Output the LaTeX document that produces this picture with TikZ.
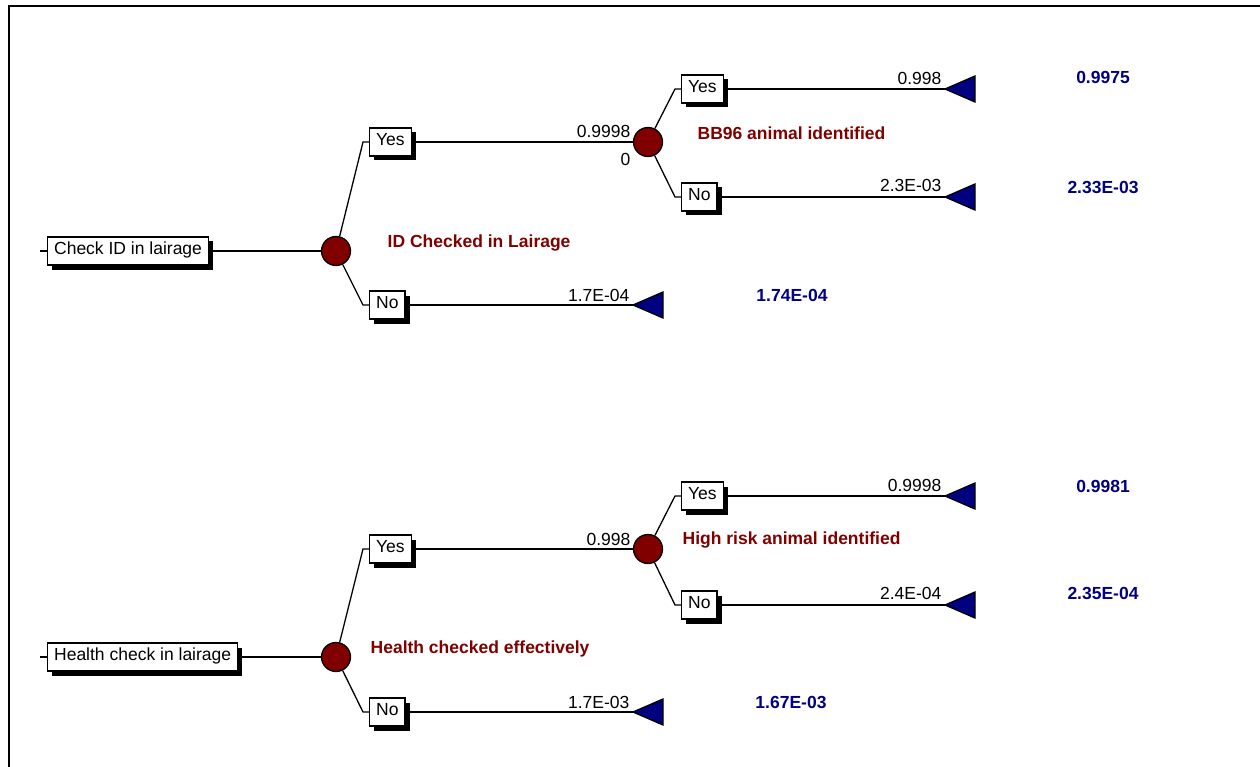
\documentclass[tikz,border=0pt]{standalone}
\usepackage{fontspec}
\setmainfont{Liberation Sans}
\usetikzlibrary{shadows}
\definecolor{treered}{HTML}{800000}
\definecolor{treeblue}{HTML}{000080}
\begin{document}
\begin{tikzpicture}[x=1pt,y=-1pt,line width=1.3pt,
    font=\fontsize{17.5}{21}\selectfont,
    opt/.style={draw,fill=white,anchor=west,inner xsep=6.5pt,inner ysep=0pt,minimum height=28pt,
        text height=12.5pt,text depth=5pt,
        drop shadow={shadow xshift=4.5pt,shadow yshift=-4.5pt,fill=black,opacity=1}},
    chance/.style={circle,draw,fill=treered,minimum size=29pt,inner sep=0pt},
    prob/.style={anchor=base east,inner sep=0pt},
    event/.style={text=treered,font=\fontsize{17.5}{21}\selectfont\bfseries,anchor=west,inner sep=0pt},
    payoff/.style={text=treeblue,font=\fontsize{17.5}{21}\selectfont\bfseries,inner sep=0pt},
    endtri/.style={fill=treeblue,draw=black}]
    \useasboundingbox (0,0) rectangle (1260,767);
    \draw[line width=2pt] (8.5,767) -- (8.5,6.5) -- (1260,6.5);

    \node[opt] (chk) at (47,251) {Check ID in lairage};
    \node[chance] (c1) at (336,251) {};
    \node[opt] (y1) at (369,142) {Yes};
    \node[opt] (n1) at (369,305) {No};
    \node[chance] (c2) at (648,142) {};
    \node[opt] (y2) at (681,89) {Yes};
    \node[opt] (n2) at (681,197) {No};
    \coordinate (e1) at (945,89);
    \coordinate (e2) at (945,197);
    \coordinate (e3) at (633,305);
    \draw (chk.west) -- ++(-7,0);
    \draw (chk) -- (c1);
    \draw (c1) -- (363,142) -- (y1);
    \draw (c1) -- (363,305) -- (n1);
    \draw (y1) -- (c2);
    \draw (c2) -- (675,89) -- (y2);
    \draw (c2) -- (675,197) -- (n2);
    \draw (y2) -- (e1);
    \draw (n2) -- (e2);
    \draw (n1) -- (e3);
    \node[event] at (387,243) {ID Checked in Lairage};
    \node[event] at (697,133) {BB96 animal identified};
    \node[prob] at (631,138) {0.9998};
    \node[prob] at (631,166) {0};
    \node[prob] at (942,85) {0.998};
    \node[prob] at (942,192) {2.3E-03};
    \node[prob] at (630,301) {1.7E-04};
    \node[payoff] at (1103,77) {0.9975};
    \node[payoff] at (1103,187) {2.33E-03};
    \node[payoff] at (792,295) {1.74E-04};

    \node[opt] (hc) at (47,657) {Health check in lairage};
    \node[chance] (c3) at (336,657) {};
    \node[opt] (y3) at (369,549) {Yes};
    \node[opt] (n3) at (369,712) {No};
    \node[chance] (c4) at (648,549) {};
    \node[opt] (y4) at (681,496) {Yes};
    \node[opt] (n4) at (681,605) {No};
    \coordinate (e4) at (945,496);
    \coordinate (e5) at (945,605);
    \coordinate (e6) at (633,712);
    \draw (hc.west) -- ++(-7,0);
    \draw (hc) -- (c3);
    \draw (c3) -- (363,549) -- (y3);
    \draw (c3) -- (363,712) -- (n3);
    \draw (y3) -- (c4);
    \draw (c4) -- (675,496) -- (y4);
    \draw (c4) -- (675,605) -- (n4);
    \draw (y4) -- (e4);
    \draw (n4) -- (e5);
    \draw (n3) -- (e6);
    \node[event] at (370,649) {Health checked effectively};
    \node[event] at (682,540) {High risk animal identified};
    \node[prob] at (631,545) {0.998};
    \node[prob] at (942,491) {0.9998};
    \node[prob] at (942,599) {2.4E-04};
    \node[prob] at (630,708) {1.7E-03};
    \node[payoff] at (1103,486) {0.9981};
    \node[payoff] at (1103,593) {2.35E-04};
    \node[payoff] at (791,702) {1.67E-03};

    \foreach \e in {e1,e2,e3,e4,e5,e6}
        \filldraw[endtri] (\e) -- ++(30,-13) -- ++(0,26) -- cycle;
\end{tikzpicture}
\end{document}
